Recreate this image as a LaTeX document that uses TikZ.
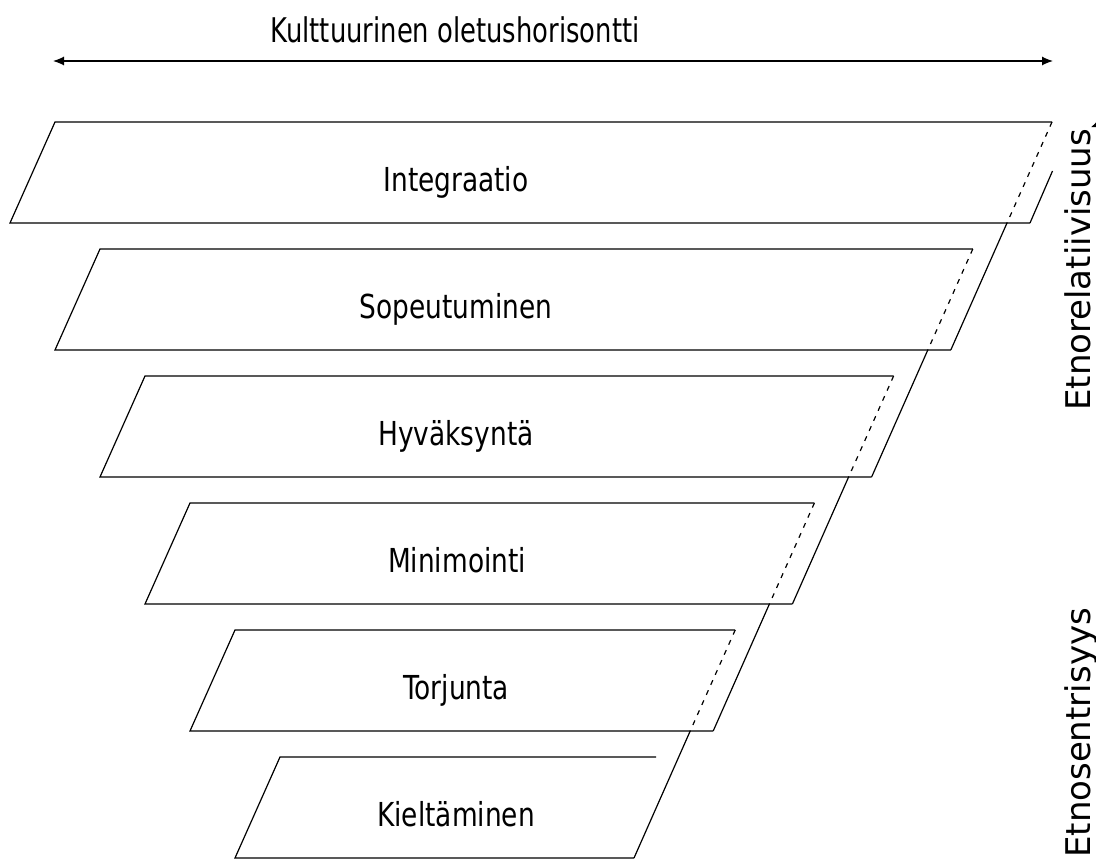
\documentclass[tikz,border=0pt]{standalone}
\usepackage{fontspec}
\setmainfont{DejaVu Sans}
\usetikzlibrary{arrows.meta}
\begin{document}
\begin{tikzpicture}[x=1pt,y=-1pt,
  edge/.style={line width=1.2pt},
  hidden/.style={line width=1.2pt, dash pattern=on 5pt off 6pt},
  harrow/.style={edge, <->, >={Latex[length=11pt,width=9pt]}},
  varrow/.style={edge, <->, >={Latex[length=10pt,width=18pt]}},
  lbl/.style={font=\fontsize{33}{40}\selectfont, anchor=base, inner sep=0pt},
  side/.style={font=\fontsize{34}{40}\selectfont, rotate=90, anchor=base west, inner sep=0pt}]
\useasboundingbox (0,0) rectangle (1096,867);
\clip (0,0) rectangle (1096,867);

% corner points of the six stacked slabs
\foreach \i in {0,...,5} {
  \pgfmathsetmacro\t{122+127*\i}
  \pgfmathsetmacro\b{223+127*\i}
  \coordinate (tl\i) at ({55+45*\i},\t);
  \coordinate (bl\i) at ({10+45*\i},\b);
  \coordinate (tr\i) at ({1052-79.2*\i},\t);
  \coordinate (bd\i) at ({1007-79.2*\i},\b);
  \coordinate (br\i) at ({1030-79.2*\i},\b);
}
\coordinate (p0) at (1052.5,171);

% visible outline of each slab
\foreach \i in {0,...,5}
  \draw[edge] (tr\i) -- (tl\i) -- (bl\i) -- (br\i);

% hidden right edges and the front faces between slabs
\foreach \i/\j in {0/1,1/2,2/3,3/4,4/5} {
  \draw[hidden] (tr\i) -- (bd\i);
  \draw[edge] (bd\i) -- (br\j);
}
\draw[edge] (p0) -- (br0);

% slab labels
\node[lbl] (integraatio) at (456,191.5) {\scalebox{0.8}[1]{Integraatio}};
\node[lbl] (sopeutuminen) at (456,318.5) {\scalebox{0.8}[1]{Sopeutuminen}};
\node[lbl] (hyvaksynta) at (456,445.5) {\scalebox{0.8}[1]{Hyväksyntä}};
\node[lbl] (minimointi) at (457,572.5) {\scalebox{0.8}[1]{Minimointi}};
\node[lbl] (torjunta) at (456,699.5) {\scalebox{0.8}[1]{Torjunta}};
\node[lbl] (kieltaminen) at (456,826.5) {\scalebox{0.8}[1]{Kieltäminen}};

% horizon arrow with its caption
\node[lbl, font=\fontsize{34}{40}\selectfont] (horisontti) at (455,43) {\scalebox{0.76}[1]{Kulttuurinen oletushorisontti}};
\coordinate (hl) at (53,61);
\coordinate (hr) at (1053,61);
\draw[harrow] (hl) -- (hr);

% scale on the right side
\coordinate (vt) at (1100,117);
\coordinate (vb) at (1100,880);
\draw[varrow] (vt) -- (vb);
\node[side] (etnorel) at (1090,411) {Etnorelatiivisuus};
\node[side] (etnosen) at (1090,858) {Etnosentrisyys};
\end{tikzpicture}
\end{document}
